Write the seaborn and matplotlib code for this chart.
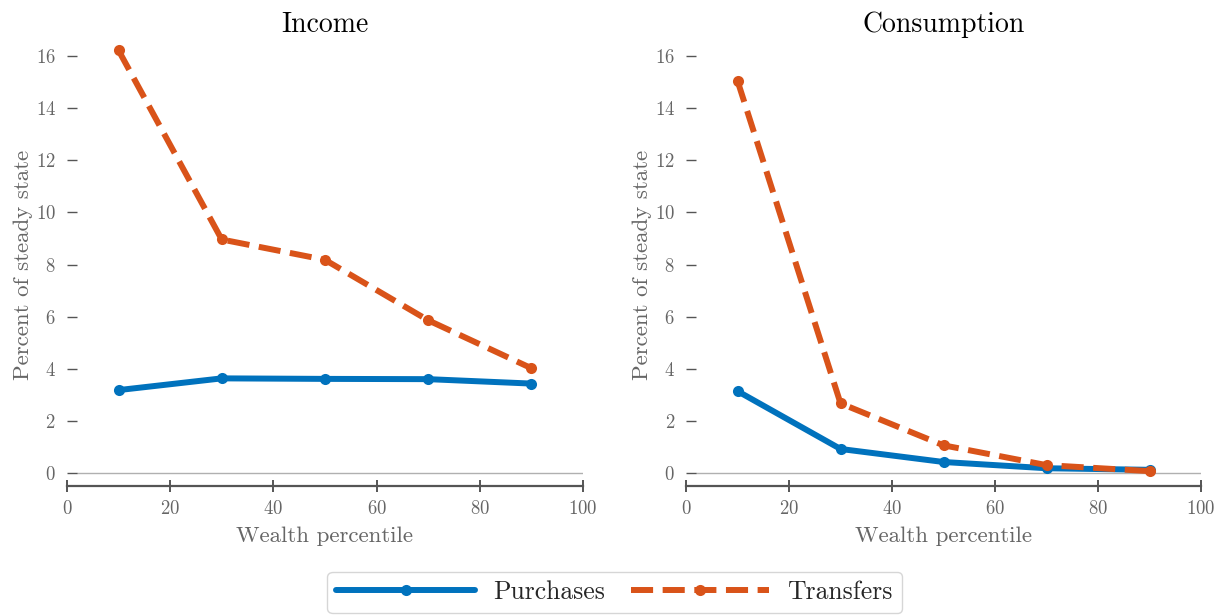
import numpy as np
import pandas as pd
import seaborn as sns
import matplotlib
matplotlib.use("Agg")
import matplotlib.pyplot as plt

# ---- data ----
percentiles = [10, 30, 50, 70, 90]
income_purchases = [3.18, 3.63, 3.61, 3.60, 3.43]
income_transfers = [16.22, 8.96, 8.18, 5.86, 4.02]
cons_purchases = [3.14, 0.92, 0.42, 0.18, 0.12]
cons_transfers = [15.05, 2.67, 1.06, 0.30, 0.07]
panel_titles = ["Income", "Consumption"]
series_names = ["Purchases", "Transfers"]
x_ticks = [0, 20, 40, 60, 80, 100]
y_ticks = [0, 2, 4, 6, 8, 10, 12, 14, 16]

rows = []
for panel, p_vals, t_vals in [("Income", income_purchases, income_transfers),
                              ("Consumption", cons_purchases, cons_transfers)]:
    for x, v in zip(percentiles, p_vals):
        rows.append(dict(panel=panel, series="Purchases", x=x, y=v))
    for x, v in zip(percentiles, t_vals):
        rows.append(dict(panel=panel, series="Transfers", x=x, y=v))
df = pd.DataFrame(rows)

sns.set_theme(style="white")
plt.rcParams["font.family"] = ["cmr10", "DejaVu Serif"]
plt.rcParams["axes.formatter.use_mathtext"] = True

palette = {"Purchases": "#0072BD", "Transfers": "#D95319"}
dashes = {"Purchases": "", "Transfers": (3.7, 1.6)}
markers = {"Purchases": "o", "Transfers": "o"}

fig = plt.figure(figsize=(12.17, 6.15), dpi=100)
ax1 = fig.add_axes([0.055, 0.2098, 0.424, 0.7202])
ax2 = fig.add_axes([0.5637, 0.2098, 0.4232, 0.7202])

gray = "#666666"
for ax, title in zip([ax1, ax2], panel_titles):
    sub = df[df.panel == title]
    sns.lineplot(data=sub, x="x", y="y", hue="series", style="series",
                 palette=palette, dashes=dashes, markers=markers,
                 linewidth=4.3, markersize=8, markeredgewidth=0,
                 ax=ax, legend=True)
    ax.axhline(0, xmin=0.02, xmax=1.0, color="#b0b0b0", linewidth=1.0, zorder=0)
    ax.set_xlim(0, 100)
    ax.set_ylim(-0.5, 16.5)
    ax.set_xticks(x_ticks)
    ax.set_yticks(y_ticks)
    ax.set_title(title, fontsize=20, color="black", pad=8)
    ax.set_xlabel("Wealth percentile", fontsize=16.5, color=gray, labelpad=6)
    ax.set_ylabel("Percent of steady state", fontsize=16.5, color=gray, labelpad=2)
    for s in ["top", "right", "left"]:
        ax.spines[s].set_visible(False)
    ax.spines["bottom"].set_color("#555555")
    ax.spines["bottom"].set_linewidth(1.6)
    ax.tick_params(axis="x", direction="inout", length=8, width=1.4,
                   color="#555555", labelsize=13.5, labelcolor=gray, pad=6, bottom=True)
    ax.tick_params(axis="y", direction="in", length=7, width=1.0,
                   color="#555555", labelsize=13.5, labelcolor=gray, pad=8, left=True)
    ax.grid(False)
    handles, labels = ax.get_legend_handles_labels()
    ax.get_legend().remove()

leg = fig.legend(handles, labels, loc="lower center", bbox_to_anchor=(0.505, -0.018),
                 ncol=2, fontsize=18.5, handlelength=5.4, handletextpad=0.7,
                 columnspacing=1.0, frameon=True, fancybox=True,
                 edgecolor="#cccccc", borderpad=0.35)
for line in leg.get_lines():
    line.set_linewidth(4.3)
    line.set_markersize(8)

fig.savefig("out.png", dpi=100)
